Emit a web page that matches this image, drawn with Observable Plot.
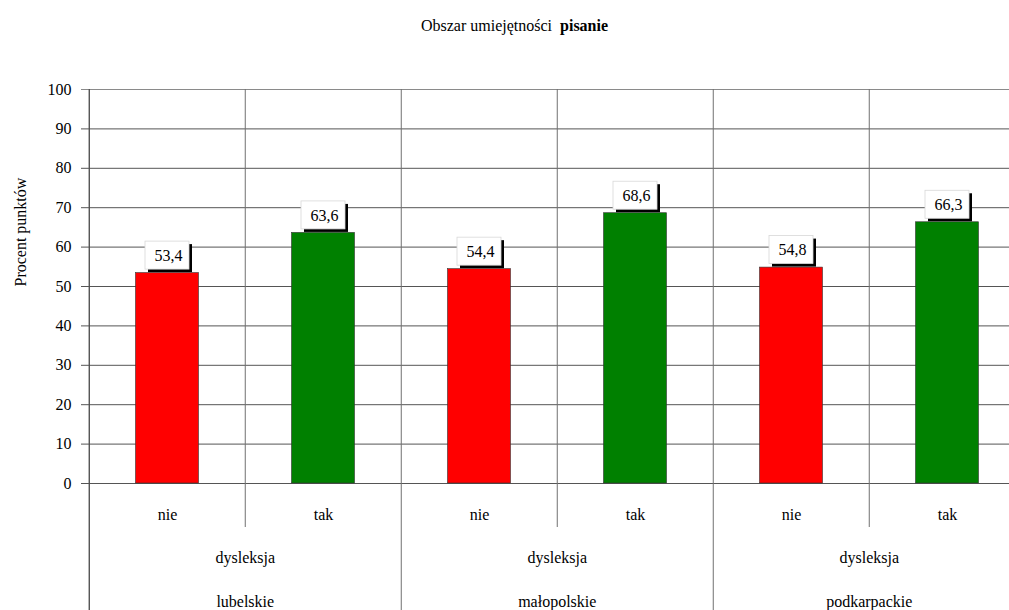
<!DOCTYPE html>
<html>
<head>
<meta charset="utf-8">
<script src="https://cdn.jsdelivr.net/npm/d3@7"></script>
<script src="https://cdn.jsdelivr.net/npm/@observablehq/plot@0.6"></script>
<style>
  body { margin: 0; background: #fff; }
  #title { height: 50px; box-sizing: border-box; padding-top: 17px; padding-left: 20px; text-align: center;
           font-family: "Liberation Serif", "Times New Roman", Times, Tinos, "Noto Serif", "DejaVu Serif", FreeSerif, serif; font-size: 16px; color: #000; width: 1009px; }
</style>
</head>
<body>
<div id="title">Obszar umiejętności&nbsp; <b>pisanie</b></div>
<div id="chart"></div>
<script>
const regions = ["lubelskie", "małopolskie", "podkarpackie"];
const dysleksja = ["nie", "tak"];
const values = [53.4, 63.6, 54.4, 68.6, 54.8, 66.3];
const yTicks = [0, 10, 20, 30, 40, 50, 60, 70, 80, 90, 100];
const barColors = { nie: "#ff0000", tak: "#008000" };

const data = [];
regions.forEach((r, i) => dysleksja.forEach((d, j) => {
  data.push({ key: r + "|" + d, region: r, dys: d, value: values[i * 2 + j] });
}));
const keys = data.map(d => d.key);
const regionKeys = regions.map(r => r + "|nie");
const innerKeys = regions.map(r => r + "|tak");

const W = 1009, H = 560, mL = 87, mR = -17, mT = 39, mB = 127;
const bw = (W - mR - mL) / keys.length;
const font = "'Liberation Serif', 'Times New Roman', Times, Tinos, 'Noto Serif', 'DejaVu Serif', FreeSerif, serif";

const chart = Plot.plot({
  width: W, height: H,
  marginLeft: mL, marginRight: mR, marginTop: mT, marginBottom: mB,
  style: { fontFamily: font, fontSize: "16px", color: "#000", background: "#fff" },
  x: { type: "band", domain: keys, padding: 0, axis: null },
  y: { domain: [0, 100], ticks: yTicks, axis: null },
  marks: [
    Plot.ruleY(yTicks, { stroke: d => d === 100 ? "#8a8a8a" : "#555", insetLeft: -6 }),
    Plot.ruleX(regionKeys, { x: d => d, dx: -bw / 2, stroke: "#707070", insetBottom: -mB }),
    Plot.ruleX(innerKeys, { x: d => d, dx: -bw / 2, stroke: "#707070", insetBottom: -44 }),
    Plot.barY(data, { x: "key", y: "value", fill: d => barColors[d.dys], stroke: "#333", strokeWidth: 0.6, insetLeft: 46.5, insetRight: 46.5 }),
    Plot.ruleX([0], { x: () => keys[0], dx: -bw / 2, stroke: "#444", insetBottom: -mB }),
    Plot.text(yTicks, { y: d => d, frameAnchor: "left", text: d => String(d), textAnchor: "end", dx: -16, fontSize: 16 }),
    Plot.text(["Procent punktów"], { frameAnchor: "left", rotate: -90, dx: -67, fontSize: 16 }),
    Plot.barY(data, { x: "key", y1: "value", y2: "value", fill: "#000", insetTop: -31.5, insetBottom: 3.5, insetLeft: 56, insetRight: 56, dx: 3, dy: 3 }),
    Plot.barY(data, { x: "key", y1: "value", y2: "value", fill: "#fff", stroke: "#d8d8d8", strokeWidth: 0.8, insetTop: -31.5, insetBottom: 3.5, insetLeft: 56, insetRight: 56 }),
    Plot.text(data, { x: "key", y: "value", text: d => d.value.toFixed(1).replace(".", ","), dy: -17.5, dx: 1, fontSize: 16, lineAnchor: "middle" }),
    Plot.text(data, { x: "key", frameAnchor: "bottom", text: "dys", dy: 31, fontSize: 16, lineAnchor: "middle" }),
    Plot.text(innerKeys, { x: d => d, dx: -bw / 2, frameAnchor: "bottom", text: () => "dysleksja", dy: 74, fontSize: 16, lineAnchor: "middle" }),
    Plot.text(innerKeys, { x: d => d, dx: -bw / 2, frameAnchor: "bottom", text: d => d.split("|")[0], dy: 118, fontSize: 16, lineAnchor: "middle" })
  ]
});
document.getElementById("chart").appendChild(chart);
</script>
</body>
</html>
